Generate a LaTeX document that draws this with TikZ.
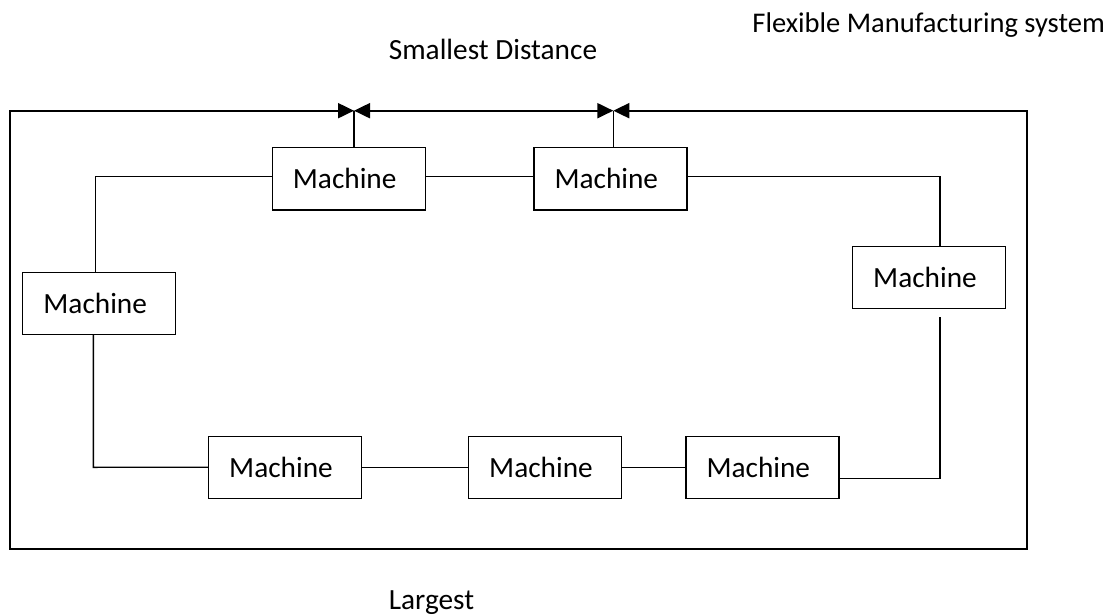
\documentclass[tikz,border=0pt]{standalone}
\usepackage{fontspec}
\setmainfont{Carlito}
\usetikzlibrary{arrows.meta}
\begin{document}
\begin{tikzpicture}[x=1pt,y=-1pt,
  machine/.style={draw,line width=1.4pt,minimum width=153pt,minimum height=62pt,inner sep=0pt,font=\fontsize{29.3}{35}\selectfont},
  conn/.style={line width=1.4pt},
  outer/.style={line width=2pt},
  lbl/.style={anchor=base,inner sep=0pt,font=\fontsize{29.3}{35}\selectfont}]
\useasboundingbox (0,0) rectangle (1119,615);
% title and labels
\node[lbl,anchor=base east,font=\fontsize{28.5}{34}\selectfont] (title) at (1105,33) {Flexible Manufacturing system};
\node[lbl] (small) at (493,60) {Smallest Distance};
\node[lbl] (large) at (431.5,609) {Largest};
% machines
\node[machine] (T1) at (348.7,178.8) {\kern-8pt Machine};
\node[machine] (T2) at (610.3,178.8) {\kern-8pt Machine};
\node[machine] (L) at (99.2,303.3) {\kern-8pt Machine};
\node[machine] (R) at (929,277.3) {\kern-8pt Machine};
\node[machine] (B1) at (285,467.2) {\kern-8pt Machine};
\node[machine] (B2) at (545,467.2) {\kern-8pt Machine};
\node[machine] (B3) at (762.3,467.2) {\kern-8pt Machine};
% outer frame
\coordinate (TL) at (10,110.7);
\coordinate (BL) at (10,549);
\coordinate (BR) at (1026.7,549);
\coordinate (TR) at (1026.7,110.7);
\coordinate (J1) at (354,110.7);
\coordinate (J2) at (613.3,110.7);
\draw[outer,{Triangle[length=16pt,width=15pt]}-{Triangle[length=16pt,width=15pt]}] (J1) -- (TL) -- (BL) -- (BR) -- (TR) -- (J2);
\draw[outer,{Triangle[length=16pt,width=15pt]}-{Triangle[length=16pt,width=15pt]}] (J1) -- (J2);
\draw[conn] (J1 |- T1.north) -- (J1);
\draw[conn] (J2 |- T2.north) -- (J2);
% loop connectors
\coordinate (Lt) at (95.7,176.7);
\draw[conn] (L.north -| Lt) -- (Lt) -- (Lt -| T1.west);
\draw[conn] (T1.east |- Lt) -- (T2.west |- Lt);
\coordinate (Rt) at (940,176.7);
\draw[conn] (T2.east |- Rt) -- (Rt) -- (Rt |- R.north);
\coordinate (Rs) at (940,317.3);
\coordinate (Rb) at (940,478.3);
\draw[conn] (Rs) -- (Rb) -- (Rb -| B3.east);
\coordinate (Lb) at (93.3,467.3);
\draw[conn] (L.south -| Lb) -- (Lb) -- (B1.west);
\draw[conn] (B1.east) -- (B2.west);
\draw[conn] (B2.east) -- (B3.west);
\end{tikzpicture}
\end{document}
